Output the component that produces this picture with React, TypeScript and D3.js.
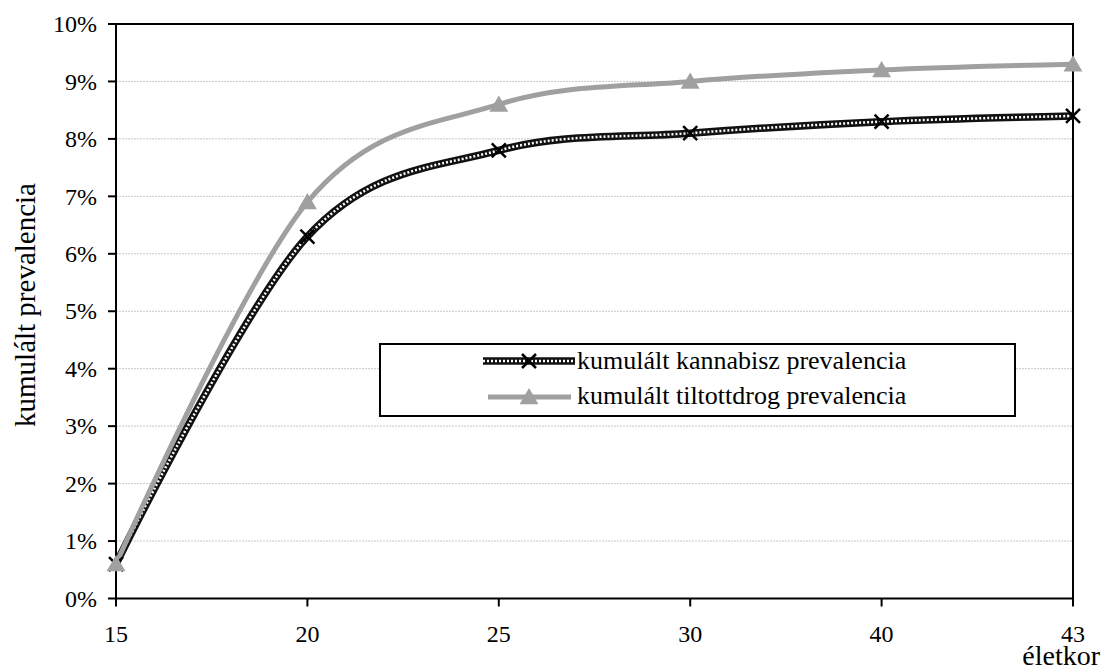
import React from "react";
import * as d3 from "d3";

const ages = ["15", "20", "25", "30", "40", "43"];
const cannabis = [0.6, 6.3, 7.8, 8.1, 8.3, 8.4];
const illicit = [0.6, 6.9, 8.6, 9.0, 9.2, 9.3];
const yTicks = [0, 1, 2, 3, 4, 5, 6, 7, 8, 9, 10];
const seriesNames = ["kumulált kannabisz prevalencia", "kumulált tiltottdrog prevalencia"];

const W = 1110;
const H = 671;
const FONT = "Liberation Serif";
const GREY = "#a0a0a0";

const left = 116, right = 1073, top = 24, bottom = 598.5;

const x = d3.scalePoint().domain(ages).range([left, right]);
const y = d3.scaleLinear().domain([0, 10]).range([bottom, top]);

const line = d3
  .line<number>()
  .x((_, i) => x(ages[i]) as number)
  .y((d) => y(d))
  .curve(d3.curveCardinal.tension(0));

const Cross = ({ cx, cy, r = 7 }: { cx: number; cy: number; r?: number }) => (
  <path
    d={`M${cx - r},${cy - r}L${cx + r},${cy + r}M${cx - r},${cy + r}L${cx + r},${cy - r}`}
    stroke="#000"
    strokeWidth={2.5}
    fill="none"
  />
);

const Tri = ({ cx, cy, r = 9 }: { cx: number; cy: number; r?: number }) => (
  <path d={`M${cx},${cy - r}L${cx + r * 1.05},${cy + r * 0.8}L${cx - r * 1.05},${cy + r * 0.8}Z`} fill={GREY} />
);

// checkered black line used for cannabis series
const Checker = ({ d }: { d: string }) => (
  <g fill="none">
    <path d={d} stroke="#111" strokeWidth={7.5} />
    <path d={d} stroke="#fff" strokeWidth={2.5} strokeDasharray="2,2" />
  </g>
);

const App = () => {
  const ly1 = 361, ly2 = 397;
  return (
    <div style={{ position: "absolute", left: 0, top: 0 }}>
      <svg width={W} height={H} style={{ display: "block", background: "#fff", fontFamily: FONT }}>
        {/* grid */}
        {yTicks.slice(1, -1).map((t) => (
          <line key={t} x1={left} x2={right} y1={y(t)} y2={y(t)} stroke="#c8c8c8" strokeDasharray="2,1" />
        ))}
        <rect x={left} y={top} width={right - left} height={bottom - top} fill="none" stroke="#000" strokeWidth={2} />

        {/* y axis */}
        {yTicks.map((t) => (
          <g key={t}>
            <line x1={left - 8} x2={left} y1={y(t)} y2={y(t)} stroke="#000" strokeWidth={2} />
            <text x={left - 19} y={y(t)} dy="0.34em" textAnchor="end" style={{ fontFamily: FONT, fontSize: "24px" }}>
              {`${t}%`}
            </text>
          </g>
        ))}

        {/* x axis */}
        {ages.map((a) => (
          <g key={a}>
            <line x1={x(a)} x2={x(a)} y1={bottom} y2={bottom + 8} stroke="#000" strokeWidth={2} />
            <text x={x(a)} y={642} textAnchor="middle" style={{ fontFamily: FONT, fontSize: "24px" }}>
              {a}
            </text>
          </g>
        ))}

        {/* axis titles */}
        <text
          transform={`translate(35,305) rotate(-90)`}
          textAnchor="middle"
          style={{ fontFamily: FONT, fontSize: "29px" }}
        >
          kumulált prevalencia
        </text>
        <text x={1100} y={665} textAnchor="end" style={{ fontFamily: FONT, fontSize: "28px" }}>
          életkor
        </text>

        {/* series */}
        <Checker d={line(cannabis) as string} />
        <path d={line(illicit) as string} fill="none" stroke={GREY} strokeWidth={5} />
        {cannabis.map((v, i) => (
          <Cross key={i} cx={x(ages[i]) as number} cy={y(v)} />
        ))}
        {illicit.map((v, i) => (
          <Tri key={i} cx={x(ages[i]) as number} cy={y(v)} />
        ))}

        {/* legend */}
        <rect x={380} y={344} width={635} height={72} fill="#fff" stroke="#000" strokeWidth={2} />
        <Checker d={`M483,${ly1}L575,${ly1}`} />
        <Cross cx={529} cy={ly1} />
        <line x1={488} x2={571} y1={ly2} y2={ly2} stroke={GREY} strokeWidth={5} />
        <Tri cx={529} cy={ly2} />
        {seriesNames.map((name, i) => (
          <text key={name} x={577} y={i === 0 ? 369 : 404} style={{ fontFamily: FONT, fontSize: "26px" }}>
            {name}
          </text>
        ))}
      </svg>
    </div>
  );
};

export default App;
